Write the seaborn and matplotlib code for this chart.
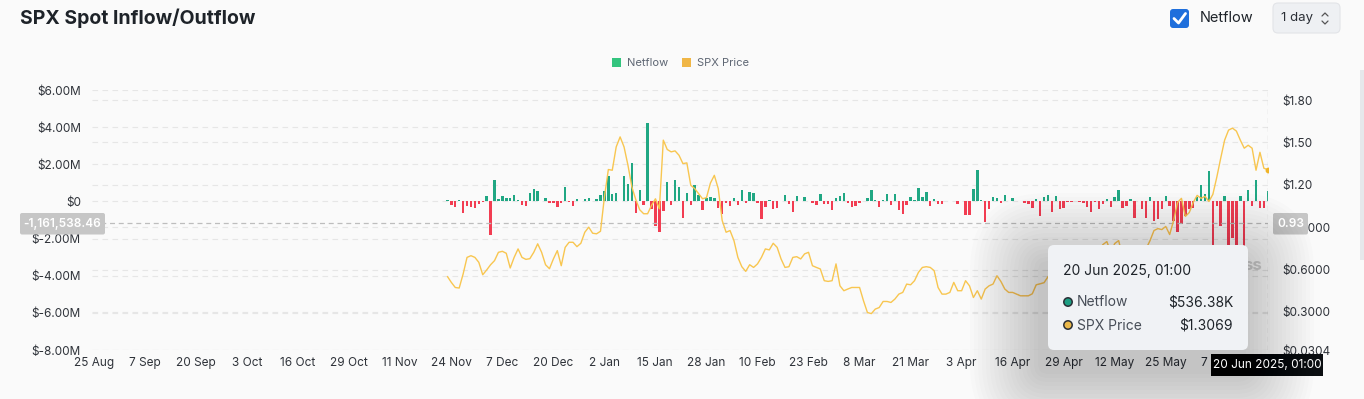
import numpy as np
import pandas as pd
import matplotlib
matplotlib.use('Agg')
import matplotlib.pyplot as plt
import matplotlib.dates as mdates
import matplotlib.transforms as mtransforms
from matplotlib.patches import FancyBboxPatch, Rectangle, Circle
from matplotlib.lines import Line2D
import seaborn as sns

# ---- data (daily, 23 Nov 2024 .. 20 Jun 2025) ----
start_date = '2024-11-23 01:00'

# Netflow in $M
netflow_m = [
    0.10, -0.20, -0.30, 0.10, -0.60, -0.25, -0.30, -0.35, -0.12, -0.03,
    0.27, -1.80, 1.17, 0.15, 0.30, 0.20, 0.17, 0.36, 0.09, -0.20,
    -0.27, 0.43, 0.65, 0.58, 0.02, 0.20, -0.07, -0.10, -0.30, -0.09,
    0.80, -0.05, -0.25, 0.15, 0.05, 0.15, 0.18, 0.02, 0.15, 0.32,
    0.56, 1.35, 0.40, 0.43, 0.04, 1.35, 0.92, 2.09, -0.61, 0.60,
    -0.20, 4.20,
    -0.43, -1.30, -1.64, -0.54, 1.06, -0.20, 1.13, 0.76, -0.90, 0.43,
    -0.20, 0.86, 0.34, -0.47, 0.20, 0.22, 0.18, -0.36, -0.67, -0.09,
    -0.23, 0.20, -0.18, 0.63, -0.10, 0.49, 0.45, -0.09, -0.95, -0.29,
    0.10, -0.40, -0.36, 0.05, 0.32, -0.14, -0.58, 0.29, 0.05, 0.25,
    0.05, -0.09, -0.18, 0.38, -0.13, -0.16, -0.45, 0.20, 0.29, 0.47,
    -0.10, -0.32,
    -0.25, -0.09, 0.05, 0.18, 0.61, 0.10, -0.30, 0.09, 0.38, -0.20,
    0.38, -0.47, -0.70, -0.18, 0.25, 0.09, 0.74, 0.25, 0.50, -0.25,
    0.13, -0.13, -0.13, 0.05, 0.01, 0.05, -0.16, 0.05, -0.72, -0.72,
    0.65, 1.68, 0.10, -1.13, -0.40, 0.25, 0.16, -0.09, 0.32, 0.05,
    0.16, 0.02, 0.03, -0.07, -0.16, -0.34, 0.14, -0.80, 0.22, 0.34,
    -0.56, 0.27, -0.40,
    -0.38, -0.02, -0.02, 0.04, -0.02, -0.09, -0.29, -0.56, -0.03, -0.40,
    -0.13, 0.14, -0.30, 0.25, 0.61, -0.36, -0.25, 0.14, -0.88, 0.05,
    -0.40, -0.88, 0.25, -1.08, -0.97, -0.43, 0.30, -0.25, -1.03, -1.62,
    -1.19, -0.76, -0.43, -0.36, 0.23,
    0.88, 0.41, 1.62, -2.80, -0.25, -1.33, 0.27, -3.10, -1.95, -2.70,
    0.29, -2.90, 0.60, -0.24, 1.16, -0.35, -0.33, 0.536,
]

# SPX price in $
spx_price = [
    0.551, 0.509, 0.473, 0.469, 0.568, 0.686, 0.698, 0.686, 0.651, 0.563,
    0.597, 0.634, 0.663, 0.722, 0.729, 0.715, 0.611, 0.686, 0.746, 0.686,
    0.672, 0.677, 0.722, 0.782, 0.722, 0.634, 0.606, 0.675, 0.734, 0.627,
    0.757, 0.793, 0.793, 0.762, 0.786, 0.864, 0.900, 0.857, 0.853, 0.871,
    1.113, 1.308, 1.303, 1.468, 1.539, 1.468, 1.338, 1.184, 1.094, 1.023,
    0.995, 0.995, 1.054, 1.101, 1.030, 1.516, 1.450, 1.433, 1.440, 1.409,
    1.350, 1.355, 1.196, 1.173, 1.137, 1.101, 1.109, 1.212, 1.267, 1.173,
    0.947, 0.864, 0.876, 0.805, 0.686, 0.620, 0.587, 0.634, 0.615, 0.640,
    0.686, 0.746, 0.739, 0.786, 0.757, 0.675, 0.615, 0.620, 0.686, 0.691,
    0.675, 0.711, 0.722, 0.627, 0.615, 0.604, 0.521, 0.516, 0.521, 0.640,
    0.485, 0.450, 0.462, 0.473, 0.473, 0.473, 0.379, 0.296, 0.288, 0.320,
    0.331, 0.374, 0.374, 0.367, 0.391, 0.426, 0.438, 0.497, 0.492, 0.521,
    0.580, 0.615, 0.620, 0.615, 0.592, 0.473, 0.426, 0.426, 0.438, 0.509,
    0.450, 0.450, 0.521, 0.485, 0.402, 0.450, 0.391, 0.462, 0.485, 0.497,
    0.556, 0.516, 0.462, 0.438, 0.438, 0.426, 0.414, 0.414, 0.414, 0.428,
    0.492, 0.499, 0.507, 0.549, 0.578, 0.585, 0.592, 0.606, 0.620, 0.627,
    0.642, 0.649, 0.663, 0.677, 0.691, 0.706, 0.734, 0.777, 0.798, 0.720,
    0.784, 0.805, 0.691, 0.649, 0.663, 0.677, 0.691, 0.713, 0.748, 0.805,
    0.876, 0.890, 0.883, 0.905, 0.848, 0.947, 1.075, 1.104, 0.976, 1.004,
    1.075, 1.125, 1.104, 1.118, 1.082, 1.132, 1.253, 1.388, 1.516, 1.587,
    1.601, 1.580, 1.516, 1.459, 1.480, 1.459, 1.303, 1.430, 1.317, 1.3069,
]

left_ticks = [6, 4, 2, 0, -2, -4, -6, -8]
left_labels = ['$6.00M', '$4.00M', '$2.00M', '$0', '$-2.00M', '$-4.00M', '$-6.00M', '$-8.00M']
right_ticks = [0.0304, 0.3, 0.6, 0.9, 1.2, 1.5, 1.8]
right_labels = ['$0.0304', '$0.3000', '$0.6000', '$0.9000', '$1.20', '$1.50', '$1.80']
xtick_dates = pd.date_range('2024-08-25', '2025-06-07', freq='13D')

cross_flow = -1.16153846
cross_date = pd.Timestamp('2025-06-20 01:00')

# ---- style ----
sns.set_theme(style='white')
plt.rcParams['font.family'] = ['Inter', 'DejaVu Sans']

BG = '#fafafa'
GREEN = '#20a783'
RED = '#f23d52'
YELLOW = '#f8c650'
TXT = '#2f333a'

W, H = 1364, 399
fig = plt.figure(figsize=(W / 100, H / 100), dpi=100, facecolor=BG)
px = mtransforms.Affine2D().scale(1 / W, -1 / H).translate(0, 1) + fig.transFigure

ax = fig.add_axes([92 / W, 1 - 350 / H, (1268 - 92) / W, 260 / H])
ax.set_facecolor(BG)
ax2 = ax.twinx()

dates = pd.date_range(start_date, periods=len(netflow_m), freq='D')
xnum = mdates.date2num(dates)

left_lim = (-8, 6)
right_lim = (0.0304, 1.871)

# grid lines for both axes (drawn on the bar axis)
grid_kw = dict(color='#e6e6e6', lw=0.8, ls=(0, (5, 4)), zorder=0)
for t in left_ticks:
    ax.axhline(t, **grid_kw)
for t in right_ticks:
    frac = (t - right_lim[0]) / (right_lim[1] - right_lim[0])
    ax.axhline(left_lim[0] + frac * (left_lim[1] - left_lim[0]), **grid_kw)

colors = [GREEN if v >= 0 else RED for v in netflow_m]
ax.bar(xnum, netflow_m, width=0.62, color=colors, linewidth=0, zorder=2)

# crosshair
cx = mdates.date2num(cross_date)
ax.axvline(cx, color='#bdbdbd', lw=0.9, ls=(0, (4, 3)), zorder=3)
ax.axhline(cross_flow, color='#bdbdbd', lw=0.9, ls=(0, (4, 3)), zorder=3)

sns.lineplot(x=xnum, y=spx_price, ax=ax2, color=YELLOW, linewidth=1.0)
ax2.plot([xnum[-1]], [spx_price[-1]], 'o', ms=3.2, color='#f0b429', zorder=5)

xl = (mdates.date2num(pd.Timestamp('2024-08-24 12:00')), cx + 0.05)
ax.set_xlim(xl)
ax.set_ylim(left_lim)
ax2.set_ylim(right_lim)

ax.set_yticks(left_ticks)
ax.set_yticklabels(left_labels)
ax2.set_yticks(right_ticks)
ax2.set_yticklabels(right_labels)
ax.set_xticks(mdates.date2num(xtick_dates))
ax.set_xticklabels([f"{d.day} {d.strftime('%b')}" for d in xtick_dates])

ax.tick_params(axis='y', length=0, pad=8, labelsize=8.5, labelcolor=TXT)
ax.tick_params(axis='x', length=0, pad=5, labelsize=8.5, labelcolor=TXT)
ax2.tick_params(axis='y', length=0, pad=10, labelsize=8.5, labelcolor=TXT)
for a in (ax, ax2):
    for s in a.spines.values():
        s.set_visible(False)
    a.grid(False)
    a.set_xlabel('')
    a.set_ylabel('')

# ---- header ----
fig.text(20, 18, 'SPX Spot Inflow/Outflow', transform=px, fontsize=14, fontweight='bold',
         color='#1e2329', va='center', ha='left')

fig.add_artist(FancyBboxPatch((1170, 9), 19, 19, boxstyle='round,pad=0,rounding_size=3',
                              transform=px, fc='#1f6fdc', ec='none', zorder=5))
fig.add_artist(Line2D([1174, 1178.5, 1185.5], [18.5, 23, 13.5], transform=px,
                      color='white', lw=2, zorder=6, solid_capstyle='round'))
fig.text(1200, 18.5, 'Netflow', transform=px, fontsize=10.5, color='#1e2329', va='center')

fig.add_artist(FancyBboxPatch((1273, 3), 67, 30, boxstyle='round,pad=0,rounding_size=5',
                              transform=px, fc='#eef0f3', ec='#e2e4e8', lw=0.8, zorder=5))
fig.text(1281, 18.5, '1 day', transform=px, fontsize=9.5, color='#2b2f36', va='center', zorder=6)
fig.add_artist(Line2D([1322, 1325, 1328], [16, 13, 16], transform=px, color='#555', lw=0.9, zorder=6))
fig.add_artist(Line2D([1322, 1325, 1328], [21, 24, 21], transform=px, color='#555', lw=0.9, zorder=6))

# legend
fig.add_artist(Rectangle((612, 58), 9, 9, transform=px, fc='#33c47e', ec='none'))
fig.text(627, 62.5, 'Netflow', transform=px, fontsize=8, color='#5e6673', va='center')
fig.add_artist(Rectangle((682, 58), 9, 9, transform=px, fc='#f0b646', ec='none'))
fig.text(697, 62.5, 'SPX Price', transform=px, fontsize=8, color='#5e6673', va='center')

# scrollbar at right edge
fig.add_artist(Rectangle((1360, 70), 4, 190, transform=px, fc='#e6e8eb', ec='none'))

# crosshair axis labels
fig.add_artist(FancyBboxPatch((20, 213), 85, 21.5, boxstyle='round,pad=0,rounding_size=2',
                              transform=px, fc='#c6c6c6', ec='none', zorder=5))
fig.text(62.5, 224, '-1,161,538.46', transform=px, fontsize=8.5, fontweight='semibold',
         color='white', ha='center', va='center', zorder=6)
fig.add_artist(FancyBboxPatch((1273, 213), 35, 21.5, boxstyle='round,pad=0,rounding_size=2',
                              transform=px, fc='#c6c6c6', ec='none', zorder=5))
fig.text(1290.5, 224, '0.93', transform=px, fontsize=8.5, fontweight='semibold',
         color='white', ha='center', va='center', zorder=6)
fig.add_artist(Rectangle((1211, 354), 112, 21.5, transform=px, fc='#0b0e11', ec='none', zorder=5))
fig.text(1267, 365, '20 Jun 2025, 01:00', transform=px, fontsize=8.5, color='white',
         ha='center', va='center', zorder=6)

# watermark peeking out next to the tooltip
fig.text(1262, 266, 'ss', transform=px, fontsize=12, fontweight='bold', color='#d6d6d6',
         ha='right', va='center', zorder=4)

# tooltip with soft shadow
for i in range(18):
    pad = 4 + i * 4
    fig.add_artist(FancyBboxPatch((1048 - pad - 6, 245 - pad + 20), 200 + 2 * pad, 105 + 2 * pad,
                                  boxstyle=f'round,pad=0,rounding_size={6 + pad}', transform=px,
                                  fc='black', ec='none', alpha=0.011, zorder=5))
fig.add_artist(FancyBboxPatch((1048, 245), 200, 105, boxstyle='round,pad=0,rounding_size=6',
                              transform=px, fc='#f0f2f5', ec='none', zorder=6))
fig.text(1063, 271.5, '20 Jun 2025, 01:00', transform=px, fontsize=10, color='#1e2329',
         va='center', zorder=7)
fig.add_artist(Circle((1068, 302), 4.2, transform=px, fc='#1d9e82', ec='#2b2f36', lw=1.1, zorder=7))
fig.text(1077, 302.5, 'Netflow', transform=px, fontsize=10, color='#474d57', va='center', zorder=7)
fig.text(1233, 302.5, '$536.38K', transform=px, fontsize=10, color='#1e2329', va='center',
         ha='right', zorder=7)
fig.add_artist(Circle((1068, 325), 4.2, transform=px, fc='#eab84a', ec='#2b2f36', lw=1.1, zorder=7))
fig.text(1077, 325.5, 'SPX Price', transform=px, fontsize=10, color='#474d57', va='center', zorder=7)
fig.text(1233, 325.5, '$1.3069', transform=px, fontsize=10, color='#1e2329', va='center',
         ha='right', zorder=7)

fig.savefig('out.png', dpi=100, facecolor=BG)
